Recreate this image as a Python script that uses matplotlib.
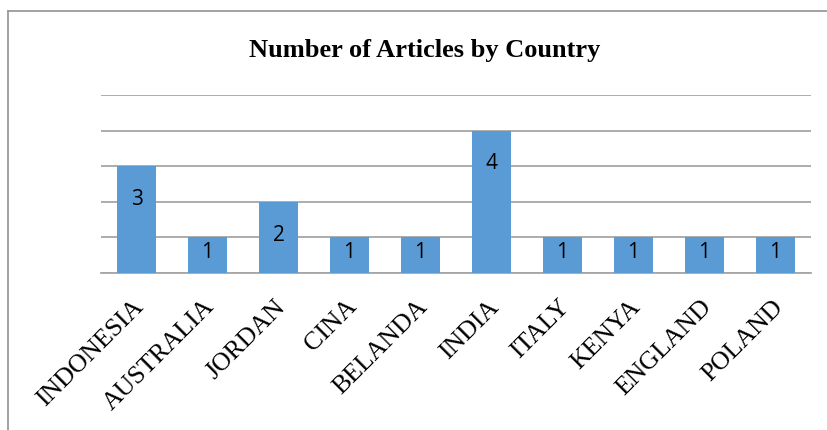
"""
    Number of Articles by Country - bar chart
"""

import matplotlib
matplotlib.use("Agg")
from matplotlib import pyplot as plt
from matplotlib.lines import Line2D
from matplotlib.transforms import ScaledTranslation

# dados
paises = ["INDONESIA", "AUSTRALIA", "JORDAN", "CINA", "BELANDA",
          "INDIA", "ITALY", "KENYA", "ENGLAND", "POLAND"]
artigos = [3, 1, 2, 1, 1, 4, 1, 1, 1, 1]

fig = plt.figure(figsize=(8.27, 4.30), dpi=100)
ax = fig.add_axes([101 / 827, 0.365, 710 / 827, 0.414])

x = range(len(paises))
barras = ax.bar(x, artigos, width=0.56, color="#5B9BD5", zorder=3)

# rótulos dentro das barras
for xi, v in zip(x, artigos):
    desloc = -11 if v == 1 else -24
    ax.annotate(str(v), (xi, v), xytext=(0, desloc), textcoords="offset points",
                ha="center", va="center", fontsize=15, family="Open Sans", zorder=4)

ax.set_xlim(-0.5, len(paises) - 0.5)
ax.set_ylim(0, 5)
ax.set_yticks(range(0, 6))
ax.yaxis.grid(True, color="#A6A6A6", linewidth=1.3, zorder=0)
ax.tick_params(axis="y", left=False, labelleft=False)
ax.tick_params(axis="x", length=0, pad=22)
for lado in ["top", "right", "left"]:
    ax.spines[lado].set_visible(False)
ax.spines["bottom"].set_color("#A6A6A6")
ax.spines["bottom"].set_linewidth(1.3)

ax.set_xticks(list(x))
ax.set_xticklabels(paises, rotation=45, ha="right", va="center",
                   rotation_mode="anchor", family="Liberation Serif", fontsize=18.6)
# empurrar os rótulos um pouco para a direita
desl = ScaledTranslation(4 / 100, 0, fig.dpi_scale_trans)
for rot in ax.get_xticklabels():
    rot.set_transform(rot.get_transform() + desl)

fig.text(0.514, 0.883, "Number of Articles by Country", ha="center", va="center",
         family="Liberation Serif", fontweight="bold", fontsize=19)

# moldura do gráfico
fig.add_artist(Line2D([8 / 827, 8 / 827], [0, 1 - 11 / 430], color="#9A9A9A", linewidth=1.3))
fig.add_artist(Line2D([8 / 827, 1], [1 - 11 / 430, 1 - 11 / 430], color="#9A9A9A", linewidth=1.3))

plt.savefig("out.png", dpi=100)
